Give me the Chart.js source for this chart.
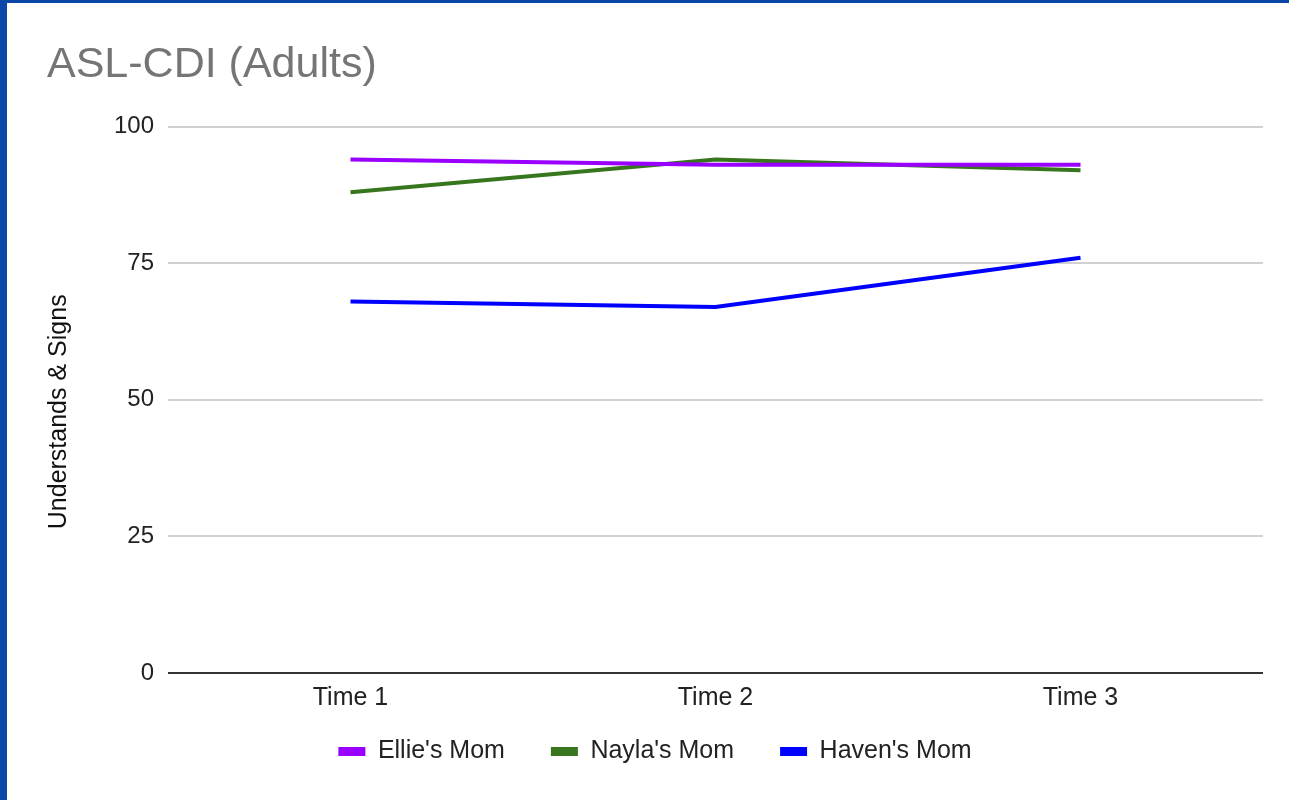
<!DOCTYPE html>
<html>
<head>
<meta charset="utf-8">
<title>ASL-CDI (Adults)</title>
<script src="https://cdn.jsdelivr.net/npm/chart.js@4/dist/chart.umd.min.js"></script>
<style>
  html, body { margin: 0; padding: 0; background: #fff; }
  .frame {
    width: 1282px;
    height: 797px;
    border-left: 7px solid #0b47a6;
    border-top: 3px solid #0b47a6;
    background: #fff;
  }
  .frame canvas { display: block; }
</style>
</head>
<body>
<div class="frame">
  <canvas id="cdiChart" width="1282" height="797"></canvas>
</div>
<script>
const timepoints = ['Time 1', 'Time 2', 'Time 3'];
const ellieMom = [94, 93, 93];
const naylaMom = [88, 94, 92];
const havenMom = [68, 67, 76];
const yTicks = [0, 25, 50, 75, 100];
const yAxisLabel = 'Understands & Signs';

const FONT = "'Liberation Sans', Arial, sans-serif";

// Rotated y axis caption, sitting a little below the middle of the plot
const yCaption = {
    id: 'yCaption',
    afterDraw(chart) {
        const { ctx, chartArea } = chart;
        ctx.save();
        ctx.translate(52, (chartArea.top + chartArea.bottom) / 2 + 12);
        ctx.rotate(-Math.PI / 2);
        ctx.font = `25px ${FONT}`;
        ctx.fillStyle = '#111';
        ctx.textAlign = 'center';
        ctx.textBaseline = 'middle';
        ctx.fillText(yAxisLabel, 0, 0);
        ctx.restore();
    }
};

// Pull the legend row up closer to the category labels
const legendLift = {
    id: 'legendLift',
    afterLayout(chart) {
        const lg = chart.legend;
        if (!lg) return;
        lg.top -= 22;
        lg.bottom -= 22;
    }
};

document.addEventListener("DOMContentLoaded", () => {
    const ctx = document.getElementById('cdiChart').getContext('2d');

    const line = (label, values, color) => ({
        label: label,
        data: values,
        borderColor: color,
        backgroundColor: color,
        borderWidth: 4,
        pointRadius: 0,
        pointHoverRadius: 0,
        tension: 0,
        fill: false
    });

    new Chart(ctx, {
        type: 'line',
        data: {
            labels: timepoints,
            datasets: [
                line("Ellie's Mom", ellieMom, '#9900ff'),
                line("Nayla's Mom", naylaMom, '#38761d'),
                line("Haven's Mom", havenMom, '#0000ff')
            ]
        },
        plugins: [yCaption, legendLift],
        options: {
            responsive: false,
            animation: false,
            layout: {
                padding: { left: 40, right: 26, top: 0, bottom: 4 }
            },
            scales: {
                x: {
                    offset: true,
                    afterFit: (scale) => { scale.height = 42; },
                    grid: { display: false, drawTicks: false },
                    border: { display: false },
                    ticks: {
                        color: '#222',
                        padding: 10,
                        font: { family: FONT, size: 25 }
                    }
                },
                y: {
                    min: 0,
                    max: 100,
                    afterBuildTicks: (scale) => {
                        scale.ticks = yTicks.map(v => ({ value: v }));
                    },
                    afterFit: (scale) => { scale.width = 121; },
                    grid: {
                        drawTicks: false,
                        lineWidth: 2,
                        color: (c) => c.tick && c.tick.value === 0 ? '#333333' : '#d0d0d0'
                    },
                    border: { display: false },
                    ticks: {
                        color: '#222',
                        padding: 14,
                        font: { family: FONT, size: 24 }
                    }
                }
            },
            plugins: {
                title: {
                    display: true,
                    text: 'ASL-CDI (Adults)',
                    align: 'start',
                    color: '#757575',
                    padding: { top: 36, bottom: 36 },
                    font: { family: FONT, size: 43, weight: 'normal' }
                },
                legend: {
                    position: 'bottom',
                    labels: {
                        boxWidth: 27,
                        boxHeight: 9,
                        padding: 46,
                        color: '#222',
                        font: { family: FONT, size: 25 },
                        generateLabels: (chart) =>
                            Chart.defaults.plugins.legend.labels.generateLabels(chart)
                                .map(item => ({ ...item, lineWidth: 0 }))
                    }
                },
                tooltip: { enabled: false }
            }
        }
    });
});
</script>
</body>
</html>
